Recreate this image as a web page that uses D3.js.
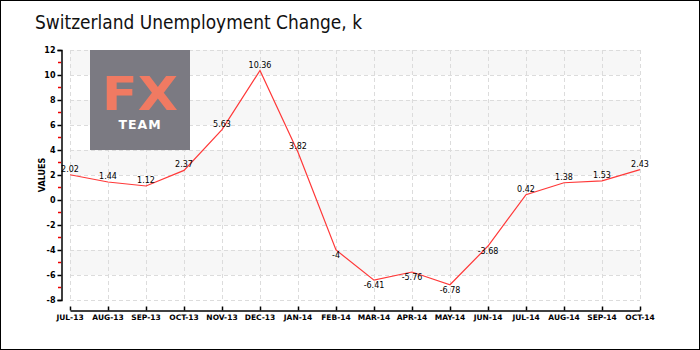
<!DOCTYPE html>
<html>
<head>
<meta charset="utf-8">
<script src="https://cdn.jsdelivr.net/npm/d3@7"></script>
<style>
  html, body { margin: 0; padding: 0; background: #fff; }
  svg { display: block; }
  text { font-family: "DejaVu Sans", sans-serif; }
</style>
</head>
<body>
<script>
// Monthly change in Swiss unemployment, thousands
const months = ["JUL-13","AUG-13","SEP-13","OCT-13","NOV-13","DEC-13","JAN-14","FEB-14",
                "MAR-14","APR-14","MAY-14","JUN-14","JUL-14","AUG-14","SEP-14","OCT-14"];
const values = [2.02, 1.44, 1.12, 2.37, 5.63, 10.36, 3.82, -4, -6.41, -5.76, -6.78, -3.68, 0.42, 1.38, 1.53, 2.43];
const valueLabels = ["2.02","1.44","1.12","2.37","5.63","10.36","3.82","-4","-6.41","-5.76","-6.78","-3.68","0.42","1.38","1.53","2.43"];
const yTicks = [12, 10, 8, 6, 4, 2, 0, -2, -4, -6, -8];
const yMinorTicks = [11, 9, 7, 5, 3, 1, -1, -3, -5, -7];
const bandRanges = [[10, 12], [6, 8], [2, 4], [-2, 0], [-6, -4]];

const W = 700, H = 350;
const svg = d3.select("body").append("svg").attr("width", W).attr("height", H);

// outer frame
svg.append("rect").attr("x", 0.5).attr("y", 0.5).attr("width", W - 1).attr("height", H - 1)
  .attr("fill", "#fff").attr("stroke", "#000").attr("stroke-width", 1);

// title
svg.append("text").attr("x", 35).attr("y", 29)
  .attr("font-size", 20).attr("font-family", "'DejaVu Sans Condensed', 'DejaVu Sans', sans-serif")
  .attr("font-weight", "normal").attr("fill", "#111")
  .attr("textLength", 327).attr("lengthAdjust", "spacingAndGlyphs")
  .text("Switzerland Unemployment Change, k");

const x = d3.scalePoint().domain(months).range([70, 640]);
const y = d3.scaleLinear().domain([-8, 12]).range([300, 50]);

// alternating background bands
svg.append("g").selectAll("rect").data(bandRanges).join("rect")
  .attr("x", 70).attr("width", 570)
  .attr("y", d => y(d[1])).attr("height", d => y(d[0]) - y(d[1]))
  .attr("fill", "#f7f7f7");

// dashed grid
const grid = svg.append("g").attr("stroke", "#dcdcdc").attr("stroke-dasharray", "4,3").attr("stroke-width", 1);
grid.selectAll("line.h").data(yTicks).join("line").attr("class", "h")
  .attr("x1", 70).attr("x2", 640)
  .attr("y1", d => Math.round(y(d)) + 0.5).attr("y2", d => Math.round(y(d)) + 0.5);
grid.selectAll("line.v").data(months).join("line").attr("class", "v")
  .attr("x1", d => Math.round(x(d)) + 0.5).attr("x2", d => Math.round(x(d)) + 0.5)
  .attr("y1", 50).attr("y2", 300);

// logo
const logo = svg.append("g");
logo.append("rect").attr("x", 90).attr("y", 50).attr("width", 100).attr("height", 100).attr("fill", "#7b7a82");
logo.append("text").attr("x", 140).attr("y", 110).attr("text-anchor", "middle")
  .attr("font-size", 46).attr("font-family", "'Open Sans', sans-serif").attr("font-weight", 600)
  .attr("fill", "#f07a62").attr("textLength", 76).attr("lengthAdjust", "spacingAndGlyphs").text("FX");
logo.append("text").attr("x", 140).attr("y", 129).attr("text-anchor", "middle")
  .attr("font-size", 12.5).attr("font-family", "'Open Sans', sans-serif").attr("font-weight", 600)
  .attr("fill", "#fff").attr("letter-spacing", 1).text("TEAM");

// y axis
const yAxis = svg.append("g").attr("transform", "translate(61.5,0)")
  .call(d3.axisLeft(y).tickValues(yTicks).tickSize(4).tickFormat(d => String(d)));
yAxis.select(".domain").attr("stroke", "#000").attr("stroke-width", 1.5);
yAxis.selectAll(".tick line").attr("stroke", "#000").attr("stroke-width", 1.5);
yAxis.selectAll(".tick text").attr("font-size", 8).attr("font-weight", "bold").attr("fill", "#000").attr("x", -6);
svg.append("g").selectAll("line").data(yMinorTicks).join("line")
  .attr("x1", 58).attr("x2", 61).attr("y1", d => y(d)).attr("y2", d => y(d))
  .attr("stroke", "#e00").attr("stroke-width", 1.5);

svg.append("text").attr("transform", "translate(45,175) rotate(-90)")
  .attr("text-anchor", "middle").attr("font-size", 8).attr("font-weight", "bold").text("VALUES");

// x axis
const xAxis = svg.append("g").attr("transform", "translate(0,310.5)")
  .call(d3.axisTop(x).tickSize(4).tickSizeOuter(0).tickFormat(() => ""));
xAxis.select(".domain").attr("stroke", "#000").attr("stroke-width", 1.5);
xAxis.selectAll(".tick line").attr("stroke", "#000").attr("stroke-width", 1.5);
svg.append("g").selectAll("text").data(months).join("text")
  .attr("x", d => x(d)).attr("y", 320).attr("text-anchor", "middle")
  .attr("font-size", 7.5).attr("font-weight", "bold").text(d => d);

// series line
const line = d3.line().x((d, i) => x(months[i])).y(d => y(d));
svg.append("path").datum(values).attr("d", line)
  .attr("fill", "none").attr("stroke", "#ff3838").attr("stroke-width", 1.2);

// value labels
svg.append("g").selectAll("text").data(values).join("text")
  .attr("x", (d, i) => x(months[i]))
  .attr("y", d => d >= 0 ? y(d) - 3 : y(d) + 8)
  .attr("text-anchor", "middle").attr("font-size", 8).attr("fill", "#000")
  .text((d, i) => valueLabels[i]);
</script>
</body>
</html>
